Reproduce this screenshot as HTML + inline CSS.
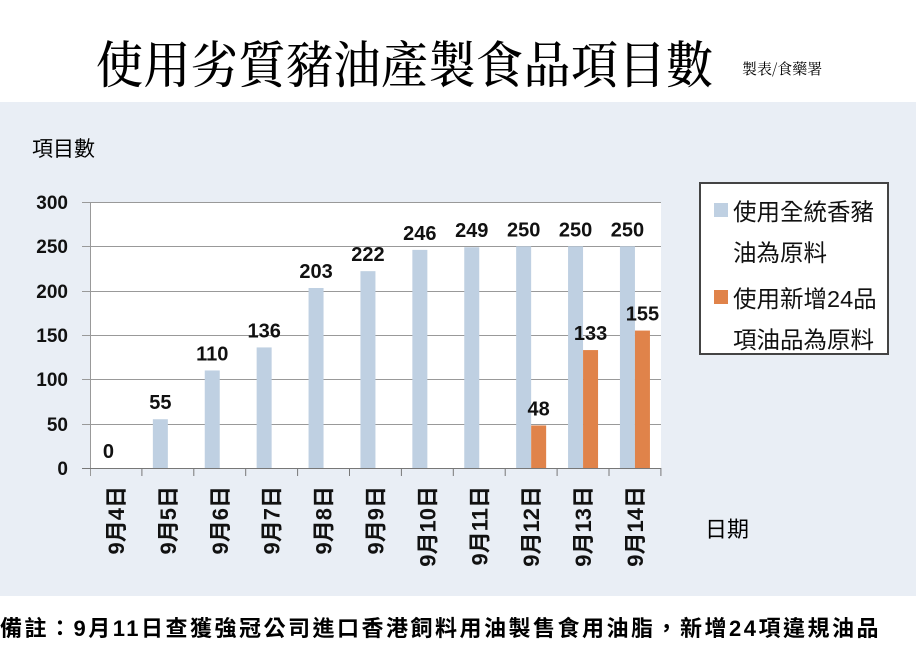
<!DOCTYPE html>
<html><head><meta charset="utf-8"><style>
body{margin:0;width:916px;height:654px;background:#fff;position:relative;overflow:hidden;font-family:"Liberation Sans","Noto Sans CJK TC",sans-serif}
.t{position:absolute;white-space:nowrap}
</style></head><body>
<div style="position:absolute;left:0;top:102px;width:916px;height:494px;background:#e9eef5"></div>
<div class="t" style="left:96px;top:30px;font-family:'Noto Serif CJK SC',serif;font-size:47px;line-height:60px;letter-spacing:0.5px;font-weight:500;transform:scaleY(1.08);transform-origin:left top">使用劣質豬油產製食品項目數</div>
<div class="t" style="left:742px;top:58px;font-size:15px;font-family:'Noto Serif CJK SC',serif">製表/食藥署</div>
<div class="t" style="left:32px;top:133px;font-size:21px">項目數</div>
<div class="t" style="left:705px;top:512px;font-size:22px">日期</div>
<div class="t" style="left:0px;top:611px;font-size:22px;font-weight:bold;letter-spacing:2.5px">備註：9月11日查獲強冠公司進口香港飼料用油製售食用油脂，新增24項違規油品</div>
<svg width="916" height="654" style="position:absolute;left:0;top:0" font-family="Liberation Sans, Noto Sans CJK TC, sans-serif">
<rect x="90" y="202" width="571" height="266" fill="#fff"/>
<g stroke="#999" stroke-width="1">
<line x1="82" y1="202.5" x2="661" y2="202.5"/><line x1="82" y1="246.5" x2="661" y2="246.5"/><line x1="82" y1="291.5" x2="661" y2="291.5"/><line x1="82" y1="335.5" x2="661" y2="335.5"/><line x1="82" y1="379.5" x2="661" y2="379.5"/><line x1="82" y1="424.5" x2="661" y2="424.5"/>
<line x1="90.5" y1="202" x2="90.5" y2="476"/>
</g>
<g stroke="#777"><line x1="82" y1="468.5" x2="661" y2="468.5"/></g>
<g id="ticks" stroke="#777"></g>
<g id="bars"></g>
<g font-size="19" font-weight="bold" text-anchor="end" fill="#111">
<text x="68" y="209">300</text><text x="68" y="253">250</text><text x="68" y="298">200</text><text x="68" y="342">150</text><text x="68" y="386">100</text><text x="68" y="431">50</text><text x="68" y="475">0</text>
</g>
<g id="lab" font-size="20" font-weight="bold" text-anchor="middle" fill="#111"></g>
<g id="xl" font-size="22" font-weight="bold" fill="#111"></g>
<rect x="700" y="183" width="188" height="171" fill="#fff" stroke="#444" stroke-width="2"/>
<rect x="714" y="203" width="14" height="14" fill="#bfd0e2"/>
<rect x="714" y="290" width="14" height="14" fill="#e0834a"/>
<g font-size="23.5" fill="#111">
<text x="733" y="220">使用全統香豬</text>
<text x="733" y="261">油為原料</text>
<text x="733" y="307">使用新增24品</text>
<text x="733" y="348">項油品為原料</text>
</g>
</svg>
<script>
var b=[0,55,110,136,203,222,246,249,250,250,250],o=[null,null,null,null,null,null,null,null,48,133,155];
var s='',t='',l='',x='',w=51.9,k=266/300;
for(var i=0;i<11;i++){var c=90+w*(i+0.5);
t+='<line x1="'+(90+w*(i+1))+'" y1="468" x2="'+(90+w*(i+1))+'" y2="476"/>';
var h=b[i]*k;s+='<rect x="'+(c-15)+'" y="'+(468-h)+'" width="15" height="'+h+'" fill="#bfd0e2"/>';
l+='<text x="'+(c-7.5)+'" y="'+(468-h-10)+'">'+b[i]+'</text>';
if(o[i]!=null){var g=o[i]*k;s+='<rect x="'+c+'" y="'+(468-g)+'" width="15" height="'+g+'" fill="#e0834a"/>';
l+='<text x="'+(c+7.5)+'" y="'+(468-g-10)+'">'+o[i]+'</text>';}
x+='<text transform="translate('+(c+8)+',486) rotate(-90)" text-anchor="end">9月'+(i+4)+'日</text>';}
document.getElementById('bars').innerHTML=s;document.getElementById('ticks').innerHTML=t;
document.getElementById('lab').innerHTML=l;document.getElementById('xl').innerHTML=x;
</script>
</body></html>
